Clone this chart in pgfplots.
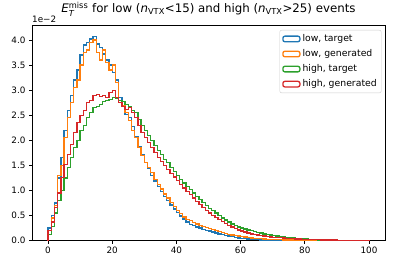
\documentclass[border=0pt]{standalone}
\usepackage{fontspec}
\setmainfont{DejaVu Sans}
\usepackage{amsmath}
\usepackage{pgfplots}
\usepackage{pgfplotstable}
\pgfplotsset{compat=1.18}
\definecolor{tabblue}{HTML}{1F77B4}
\definecolor{taborange}{HTML}{FF7F0E}
\definecolor{tabgreen}{HTML}{2CA02C}
\definecolor{tabred}{HTML}{D62728}

\pgfplotstableread{
x y
0 0
0 0.25
1 0.5
2 0.75
3 1.25
4 1.65
5 2.2
6 2.6
7 2.9
8 3.2
9 3.4
10 3.7
11 3.9
12 3.95
13 4.02
14 4.07
15 3.92
16 3.85
17 3.72
18 3.6
19 3.5
20 3.35
21 3.2
22 2.85
23 2.68
24 2.52
25 2.45
26 2.28
27 2.08
28 1.88
29 1.72
30 1.55
31 1.43
32 1.3
33 1.19
34 1.08
35 0.98
36 0.88
37 0.8
38 0.71
39 0.63
40 0.56
41 0.49
42 0.43
43 0.37
44 0.32
45 0.3
46 0.27
47 0.25
48 0.22
49 0.2
50 0.19
51 0.17
52 0.15
53 0.13
54 0.12
55 0.1
56 0.09
57 0.08
58 0.065
59 0.05
60 0.04
61 0.035
62 0.03
63 0.025
64 0.02
65 0.016
66 0.013
67 0.011
68 0.009
69 0.008
70 0.006
71 0.005
72 0.004
73 0.004
74 0.003
75 0.003
76 0.002
77 0.002
78 0.002
79 0.001
80 0.001
81 0.001
82 0.001
83 0.001
84 0.001
85 0
86 0
87 0
88 0
89 0
90 0
91 0
92 0
93 0
94 0
95 0
96 0
97 0
98 0
99 0
100 0
}\lowtarget

\pgfplotstableread{
x y
0 0
0 0.2
1 0.45
2 0.7
3 1.3
4 1.5
5 2.05
6 2.45
7 2.75
8 3.05
9 3.2
10 3.5
11 3.75
12 3.8
13 3.95
14 4.0
15 3.75
16 3.6
17 3.8
18 3.55
19 3.4
20 3.5
21 3.15
22 2.8
23 2.7
24 2.55
25 2.4
26 2.2
27 2.05
28 1.85
29 1.7
30 1.55
31 1.45
32 1.35
33 1.22
34 1.12
35 1.03
36 0.93
37 0.85
38 0.76
39 0.68
40 0.6
41 0.54
42 0.47
43 0.42
44 0.4
45 0.36
46 0.33
47 0.3
48 0.28
49 0.26
50 0.24
51 0.22
52 0.2
53 0.18
54 0.16
55 0.14
56 0.12
57 0.11
58 0.1
59 0.09
60 0.08
61 0.07
62 0.06
63 0.05
64 0.045
65 0.04
66 0.035
67 0.03
68 0.025
69 0.02
70 0.018
71 0.016
72 0.014
73 0.012
74 0.01
75 0.009
76 0.008
77 0.007
78 0.006
79 0.005
80 0.005
81 0.004
82 0.004
83 0.003
84 0.003
85 0.003
86 0.002
87 0.002
88 0.002
89 0.002
90 0.001
91 0.001
92 0.001
93 0.001
94 0.001
95 0.001
96 0.001
97 0.001
98 0.001
99 0.001
100 0
}\lowgen

\pgfplotstableread{
x y
0 0
0 0.12
1 0.28
2 0.55
3 0.8
4 1.0
5 1.25
6 1.45
7 1.65
8 1.85
9 2.0
10 2.2
11 2.3
12 2.45
13 2.55
14 2.65
15 2.68
16 2.72
17 2.78
18 2.8
19 2.82
20 2.85
21 2.83
22 2.8
23 2.77
24 2.72
25 2.68
26 2.6
27 2.55
28 2.42
29 2.3
30 2.2
31 2.1
32 2.0
33 1.9
34 1.8
35 1.72
36 1.62
37 1.55
38 1.45
39 1.38
40 1.3
41 1.22
42 1.15
43 1.08
44 1.02
45 0.95
46 0.88
47 0.82
48 0.76
49 0.7
50 0.64
51 0.6
52 0.55
53 0.5
54 0.45
55 0.41
56 0.37
57 0.33
58 0.3
59 0.27
60 0.25
61 0.23
62 0.21
63 0.2
64 0.18
65 0.16
66 0.15
67 0.13
68 0.12
69 0.11
70 0.1
71 0.09
72 0.08
73 0.07
74 0.06
75 0.055
76 0.05
77 0.045
78 0.04
79 0.035
80 0.03
81 0.025
82 0.02
83 0.015
84 0.01
85 0.008
86 0.007
87 0.006
88 0.005
89 0.004
90 0.004
91 0.003
92 0.003
93 0.002
94 0.002
95 0.002
96 0.001
97 0.001
98 0.001
99 0.001
100 0
}\hightarget

\pgfplotstableread{
x y
0 0
0 0.2
1 0.37
2 0.66
3 0.95
4 1.26
5 1.52
6 1.72
7 1.92
8 2.15
9 2.35
10 2.5
11 2.6
12 2.75
13 2.8
14 2.9
15 2.92
16 2.88
17 2.9
18 2.85
19 2.95
20 3.0
21 2.85
22 2.75
23 2.68
24 2.62
25 2.65
26 2.55
27 2.45
28 2.3
29 2.15
30 2.05
31 1.95
32 1.85
33 1.75
34 1.65
35 1.58
36 1.5
37 1.42
38 1.34
39 1.27
40 1.2
41 1.12
42 1.05
43 0.98
44 0.92
45 0.85
46 0.78
47 0.72
48 0.66
49 0.6
50 0.55
51 0.5
52 0.46
53 0.42
54 0.38
55 0.34
56 0.3
57 0.27
58 0.24
59 0.21
60 0.19
61 0.17
62 0.15
63 0.13
64 0.12
65 0.11
66 0.1
67 0.09
68 0.08
69 0.07
70 0.065
71 0.06
72 0.055
73 0.05
74 0.045
75 0.04
76 0.036
77 0.032
78 0.028
79 0.025
80 0.022
81 0.02
82 0.018
83 0.016
84 0.014
85 0.012
86 0.011
87 0.01
88 0.009
89 0.008
90 0.007
91 0.006
92 0.006
93 0.005
94 0.005
95 0.004
96 0.004
97 0.003
98 0.003
99 0.003
100 0
}\highgen

\begin{document}
\begin{tikzpicture}
\useasboundingbox (-32pt,-25.5pt) rectangle (367pt,240.5pt);
\begin{axis}[
  at={(0pt,0pt)}, anchor=south west,
  scale only axis, width=353pt, height=215.5pt,
  xmin=-5, xmax=105, ymin=0, ymax=4.3,
  xtick={0,20,40,60,80,100},
  ytick={0,0.5,1,1.5,2,2.5,3,3.5,4},
  yticklabel style={/pgf/number format/.cd, fixed, fixed zerofill, precision=1},
  /pgf/number format/assume math mode=true,
  tick label style={font=\fontsize{8.8}{10}\selectfont},
  xtick pos=bottom, ytick pos=left,
  tick align=outside, major tick length=3pt,
  every tick/.style={black, line width=0.7pt},
  axis line style={line width=0.7pt},
  title={\textit{E}$_{\textit{T}}^{\text{miss}}$ for low (\textit{n}$_{\text{VTX}}$<15) and high (\textit{n}$_{\text{VTX}}$>25) events},
  title style={font=\fontsize{11.8}{13}\selectfont, at={(0.5,1)}, anchor=south, yshift=-1pt},
  legend style={at={(0.99,0.977)}, anchor=north east, draw=black!20, rounded corners=2pt,
    font=\fontsize{9.3}{10}\selectfont, row sep=2.5pt, inner sep=2.5pt, fill=white, fill opacity=0.8, text opacity=1},
  legend cell align=left,
  legend image code/.code={\draw[#1] (0pt,-2.8pt) rectangle (17pt,2.8pt);},
  every axis plot/.append style={line width=1.3pt, const plot mark left},
]
\addplot[tabblue] table {\lowtarget};
\addlegendentry{low, target}
\addplot[taborange] table {\lowgen};
\addlegendentry{low, generated}
\addplot[tabgreen] table {\hightarget};
\addlegendentry{high, target}
\addplot[tabred] table {\highgen};
\addlegendentry{high, generated}
\end{axis}
\node[anchor=south west, font=\fontsize{8.8}{10}\selectfont, inner sep=0pt] at (0pt,217.5pt) {1e−2};
\end{tikzpicture}
\end{document}
